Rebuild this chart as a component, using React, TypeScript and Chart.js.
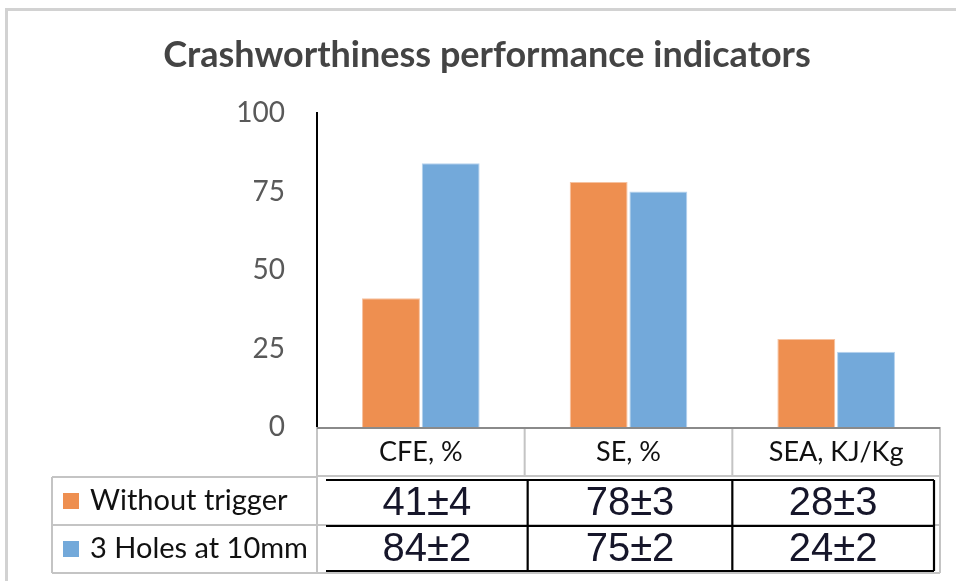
import React, { useEffect, useRef } from "react";
import { Chart, registerables } from "chart.js";

Chart.register(...registerables);

const title = "Crashworthiness performance indicators";
const categories = ["CFE, %", "SE, %", "SEA, KJ/Kg"];
const seriesNames = ["Without trigger", "3 Holes at 10mm"];
const withoutTrigger = [41, 78, 28];
const withoutTriggerErr = [4, 3, 3];
const threeHoles = [84, 75, 24];
const threeHolesErr = [2, 2, 2];
const yTicks = [0, 25, 50, 75, 100];

const ORANGE = "#EE8F50";
const BLUE = "#73A9DA";

const W = 956;
const H = 581;

const sansFont = "Lato, 'Open Sans', sans-serif";

// Draws the frame, the title and the data table below the plot
const tablePlugin = {
  id: "dataTable",
  beforeDraw(chart: Chart) {
    const ctx = chart.ctx;
    ctx.save();
    ctx.fillStyle = "#ffffff";
    ctx.fillRect(0, 0, W, H);
    ctx.strokeStyle = "#d2d2d2";
    ctx.lineWidth = 3;
    ctx.beginPath();
    ctx.moveTo(W, 9.5);
    ctx.lineTo(6.5, 9.5);
    ctx.lineTo(6.5, H);
    ctx.stroke();
    ctx.fillStyle = "#444444";
    ctx.font = `bold 36px ${sansFont}`;
    ctx.textAlign = "center";
    ctx.textBaseline = "middle";
    ctx.fillText(title, 487, 55);
    ctx.restore();
  },
  afterDraw(chart: Chart) {
    const ctx = chart.ctx;
    const area = chart.chartArea;
    const x = chart.scales.x;
    const n = categories.length;
    const w = x.width / n;
    const b = Array.from({ length: n + 1 }, (_, i) => x.left + i * w);
    const headTop = area.bottom;
    const headBottom = headTop + 49;
    const rowTop = headBottom + 1;
    const rowH = 48;
    const legendLeft = 52;

    ctx.save();
    // light grey grid of the table
    ctx.strokeStyle = "#c4c4c4";
    ctx.lineWidth = 2;
    ctx.beginPath();
    for (let i = 0; i <= n; i++) {
      ctx.moveTo(b[i], headTop);
      ctx.lineTo(b[i], i === 0 || i === n ? rowTop + 2 * rowH : headBottom);
    }
    ctx.moveTo(b[0], headBottom);
    ctx.lineTo(b[n], headBottom);
    ctx.moveTo(legendLeft, rowTop);
    ctx.lineTo(b[0], rowTop);
    for (let r = 1; r <= 2; r++) {
      ctx.moveTo(legendLeft, rowTop + r * rowH);
      ctx.lineTo(b[n], rowTop + r * rowH);
    }
    ctx.moveTo(legendLeft, rowTop);
    ctx.lineTo(legendLeft, rowTop + 2 * rowH);
    ctx.stroke();

    // dark x axis line on top of the header
    ctx.strokeStyle = "#8a8a8a";
    ctx.beginPath();
    ctx.moveTo(b[0], headTop + 1);
    ctx.lineTo(b[n], headTop + 1);
    ctx.stroke();

    // black value grid
    const blackTop = rowTop + 3;
    const blackMid = blackTop + 46;
    const blackBottom = blackTop + 91;
    const bl = [b[0] + 9, b[1] + 3, b[2], b[n] - 6];
    ctx.strokeStyle = "#000000";
    ctx.lineWidth = 2.2;
    ctx.beginPath();
    [blackTop, blackMid, blackBottom].forEach((yy) => {
      ctx.moveTo(bl[0], yy);
      ctx.lineTo(bl[3], yy);
    });
    for (let i = 1; i <= 3; i++) {
      ctx.moveTo(bl[i], blackTop);
      ctx.lineTo(bl[i], blackBottom);
    }
    ctx.stroke();

    // category header labels
    ctx.fillStyle = "#111111";
    ctx.font = `27px ${sansFont}`;
    ctx.textAlign = "center";
    ctx.textBaseline = "middle";
    categories.forEach((c, i) => {
      ctx.fillText(c, x.getPixelForValue(i), (headTop + headBottom) / 2 + 1);
    });

    // legend column
    const rowsData = [
      { name: seriesNames[0], color: ORANGE, vals: withoutTrigger, errs: withoutTriggerErr },
      { name: seriesNames[1], color: BLUE, vals: threeHoles, errs: threeHolesErr },
    ];
    rowsData.forEach((row, r) => {
      const cy = rowTop + r * rowH + rowH / 2;
      ctx.fillStyle = row.color;
      ctx.fillRect(63, cy - 8, 16, 16);
      ctx.fillStyle = "#111111";
      ctx.font = `29px ${sansFont}`;
      ctx.textAlign = "left";
      ctx.fillText(row.name, 90, cy);
      const vy = r === 0 ? (blackTop + blackMid) / 2 + 1 : (blackMid + blackBottom) / 2 + 1;
      ctx.font = `40px 'Liberation Sans', Arial, sans-serif`;
      ctx.textAlign = "center";
      ctx.fillStyle = "#16162a";
      row.vals.forEach((v, i) => {
        const cx = (bl[i] + bl[i + 1]) / 2;
        ctx.fillText(`${v}±${row.errs[i]}`, cx, vy);
      });
    });
    ctx.restore();
  },
};

export default function App() {
  const canvasRef = useRef<HTMLCanvasElement | null>(null);

  useEffect(() => {
    document.body.style.margin = "0";
    const canvas = canvasRef.current;
    if (!canvas) return;
    const chart = new Chart(canvas, {
      type: "bar",
      data: {
        labels: categories,
        datasets: [
          {
            label: seriesNames[0],
            data: withoutTrigger,
            backgroundColor: ORANGE,
            borderColor: "#F6C2A0",
            borderWidth: 1,
          },
          {
            label: seriesNames[1],
            data: threeHoles,
            backgroundColor: BLUE,
            borderColor: "#B7D3EE",
            borderWidth: 1,
          },
        ],
      },
      options: {
        responsive: false,
        animation: false,
        devicePixelRatio: 1,
        layout: { padding: { top: 113, right: 16, left: 0, bottom: 0 } },
        datasets: {
          bar: { categoryPercentage: 0.575, barPercentage: 0.97 },
        },
        plugins: {
          legend: { display: false },
          title: { display: false },
          tooltip: { enabled: false },
        },
        scales: {
          x: {
            grid: { display: false, drawTicks: false },
            border: { display: false },
            ticks: { display: false },
            afterFit: (scale: any) => {
              scale.height = 154;
            },
          },
          y: {
            min: 0,
            max: 100,
            afterBuildTicks: (scale: any) => {
              scale.ticks = yTicks.map((v) => ({ value: v }));
            },
            grid: { display: false, drawTicks: false },
            border: { display: true, color: "#000000", width: 2 },
            ticks: {
              color: "#595959",
              font: { family: sansFont, size: 28 },
              padding: 32,
            },
            afterFit: (scale: any) => {
              scale.width = 317;
            },
          },
        },
      },
      plugins: [tablePlugin],
    });
    return () => chart.destroy();
  }, []);

  return (
    <div style={{ position: "absolute", left: 0, top: 0, width: W, height: H }}>
      <canvas ref={canvasRef} width={W} height={H} />
    </div>
  );
}
